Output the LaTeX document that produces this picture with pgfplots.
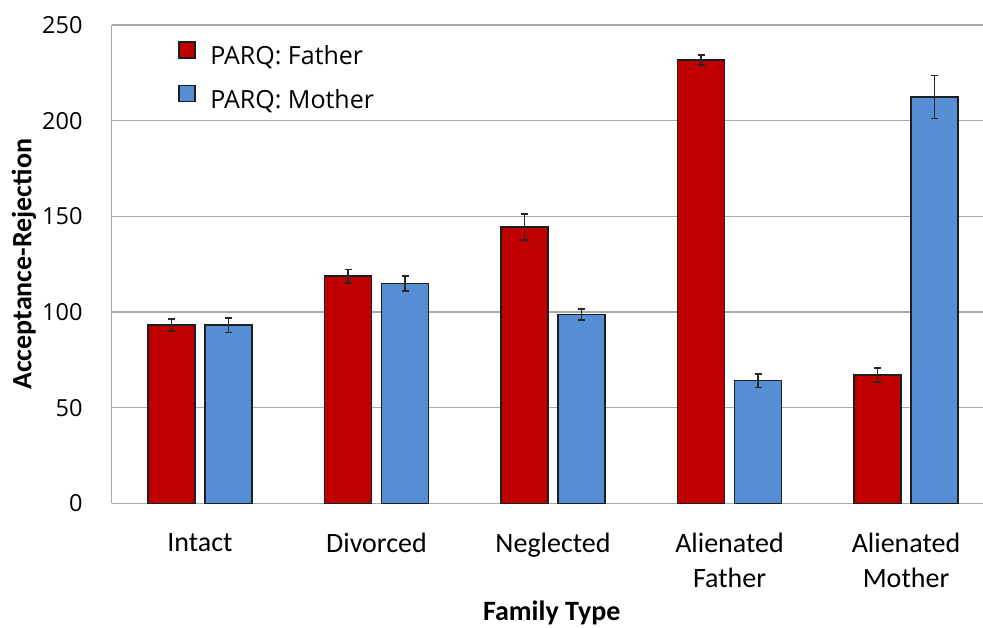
\documentclass[border=0pt]{standalone}
\usepackage{pgfplots}
\usepackage{pgfplotstable}
\pgfplotsset{compat=1.18}
\usepackage{fontspec}
\setmainfont{Carlito}
\newfontfamily\osans{Open Sans}
\definecolor{fred}{RGB}{192,0,0}
\definecolor{mblue}{RGB}{85,142,213}
\definecolor{gridgray}{RGB}{170,170,170}
\definecolor{edge}{RGB}{30,30,30}

\pgfplotstableread{
x y e
0 93.2 3.2
1 118.8 3.5
2 144.4 6.7
3 231.7 2.5
4 67.1 3.7
}\father
\pgfplotstableread{
x y e
0 93.2 3.8
1 115.0 4.0
2 98.8 2.9
3 64.1 3.6
4 212.4 11.3
}\mother

\begin{document}
\begin{tikzpicture}
\useasboundingbox (0pt,0pt) rectangle (983pt,628pt);
\begin{axis}[
  at={(111.75pt,124.5pt)}, anchor=south west,
  scale only axis, width=871.25pt, height=478.5pt,
  ybar, bar width=47pt,
  xmin=-0.5, xmax=4.436, ymin=0, ymax=250,
  xtick={0,1,2,3,4},
  xticklabels={Intact, Divorced, Neglected, Alienated\\Father, Alienated\\Mother},
  ytick={0,50,100,150,200,250},
  major tick length=0pt,
  ymajorgrids, grid style={gridgray, line width=1.3pt},
  axis x line*=bottom, axis y line*=left,
  axis line style={gridgray, line width=1.3pt},
  /pgf/number format/assume math mode=true,
  yticklabel style={font=\osans\fontsize{23.5}{23.5}\selectfont, anchor=east, inner sep=0pt, xshift=-29pt},
  xticklabel style={font=\fontsize{28}{35}\selectfont, align=center, anchor=north, inner sep=0pt, yshift=-29.5pt},
  xlabel={\textbf{Family Type}},
  ylabel={\textbf{Acceptance-Rejection}},
  xlabel style={font=\fontsize{28}{28}\selectfont, at={(axis description cs:0.505,0)}, anchor=base, yshift=-117.5pt},
  ylabel style={font=\fontsize{28}{28}\selectfont, at={(axis description cs:0,0.5)}, anchor=base, xshift=0pt, yshift=80.25pt},
  legend style={draw=none, fill=none, at={(rel axis cs:0.0763,0.966)}, anchor=north west,
    inner sep=0pt, row sep=14.4pt, column sep=14.7pt, font=\osans\fontsize{25}{25}\selectfont,
    nodes={inner sep=0pt, text height=18pt, text depth=6pt}},
  legend image code/.code={\draw[#1, draw=edge, line width=1.2pt] (0pt,0.5pt) rectangle (16pt,16.5pt);},
  legend cell align=left,
]
\addplot[fill=fred, draw=edge, line width=1.3pt, bar shift=-28.5pt,
  error bars/.cd, y dir=both, y explicit,
  error bar style={line width=1.6pt, black!85},
  error mark options={rotate=90, line width=1.6pt, black!85, mark size=3.5pt}]
  table[x=x, y=y, y error=e] {\father};
\addlegendentry{PARQ: Father}
\addplot[fill=mblue, draw=edge, line width=1.3pt, bar shift=28.5pt,
  error bars/.cd, y dir=both, y explicit,
  error bar style={line width=1.6pt, black!85},
  error mark options={rotate=90, line width=1.6pt, black!85, mark size=3.5pt}]
  table[x=x, y=y, y error=e] {\mother};
\addlegendentry{PARQ: Mother}
\end{axis}
\end{tikzpicture}
\end{document}
